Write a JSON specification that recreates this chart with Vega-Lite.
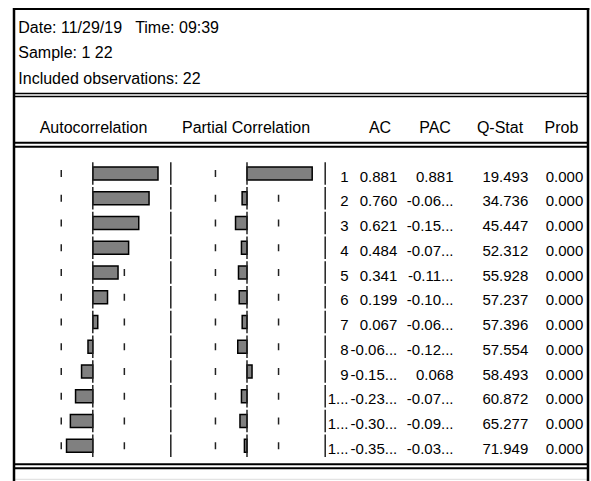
{
  "$schema": "https://vega.github.io/schema/vega-lite/v6.json",
  "width": 591,
  "height": 481,
  "autosize": "none",
  "padding": 0,
  "background": "white",
  "config": {"view": {"stroke": null}, "axis": {"disable": true}},
  "datasets": {
    "corr": [
      {"lag": 1, "lagLabel": "1", "ac": 0.881, "acLabel": "0.881", "pac": 0.881, "pacLabel": "0.881", "q": 19.493, "prob": 0.0},
      {"lag": 2, "lagLabel": "2", "ac": 0.760, "acLabel": "0.760", "pac": -0.066, "pacLabel": "-0.06...", "q": 34.736, "prob": 0.0},
      {"lag": 3, "lagLabel": "3", "ac": 0.621, "acLabel": "0.621", "pac": -0.155, "pacLabel": "-0.15...", "q": 45.447, "prob": 0.0},
      {"lag": 4, "lagLabel": "4", "ac": 0.484, "acLabel": "0.484", "pac": -0.075, "pacLabel": "-0.07...", "q": 52.312, "prob": 0.0},
      {"lag": 5, "lagLabel": "5", "ac": 0.341, "acLabel": "0.341", "pac": -0.115, "pacLabel": "-0.11...", "q": 55.928, "prob": 0.0},
      {"lag": 6, "lagLabel": "6", "ac": 0.199, "acLabel": "0.199", "pac": -0.105, "pacLabel": "-0.10...", "q": 57.237, "prob": 0.0},
      {"lag": 7, "lagLabel": "7", "ac": 0.067, "acLabel": "0.067", "pac": -0.065, "pacLabel": "-0.06...", "q": 57.396, "prob": 0.0},
      {"lag": 8, "lagLabel": "8", "ac": -0.065, "acLabel": "-0.06...", "pac": -0.125, "pacLabel": "-0.12...", "q": 57.554, "prob": 0.0},
      {"lag": 9, "lagLabel": "9", "ac": -0.152, "acLabel": "-0.15...", "pac": 0.068, "pacLabel": "0.068", "q": 58.493, "prob": 0.0},
      {"lag": 10, "lagLabel": "1...", "ac": -0.233, "acLabel": "-0.23...", "pac": -0.075, "pacLabel": "-0.07...", "q": 60.872, "prob": 0.0},
      {"lag": 11, "lagLabel": "1...", "ac": -0.303, "acLabel": "-0.30...", "pac": -0.095, "pacLabel": "-0.09...", "q": 65.277, "prob": 0.0},
      {"lag": 12, "lagLabel": "1...", "ac": -0.355, "acLabel": "-0.35...", "pac": -0.035, "pacLabel": "-0.03...", "q": 71.949, "prob": 0.0}
    ]
  },
  "resolve": {"scale": {"x": "independent", "y": "independent"}},
  "layer": [
    {
      "data": {"name": "corr"},
      "encoding": {"y": {"field": "lag", "type": "quantitative", "scale": {"domain": [-6.0101, 13.4242], "nice": false, "zero": false, "padding": 0, "reverse": true}}},
      "layer": [
        {"mark": {"type": "tick", "orient": "vertical", "size": 7, "thickness": 1.5, "color": "#222", "opacity": 1},
         "encoding": {"x": {"datum": -0.4264, "type": "quantitative", "scale": {"domain": [-1.25405, 6.73243], "nice": false, "zero": false, "padding": 0}}}},
        {"mark": {"type": "tick", "orient": "vertical", "size": 7, "thickness": 1.5, "color": "#222", "opacity": 1},
         "encoding": {"x": {"datum": 0.4264, "type": "quantitative", "scale": {"domain": [-1.25405, 6.73243], "nice": false, "zero": false, "padding": 0}}}},
        {"mark": {"type": "bar", "orient": "horizontal", "size": 13, "fill": "#808080", "stroke": "#000000", "strokeWidth": 1.5, "opacity": 1},
         "encoding": {"x": {"field": "ac", "type": "quantitative", "scale": {"domain": [-1.25405, 6.73243], "nice": false, "zero": false, "padding": 0}}, "x2": {"datum": 0}}},
        {"mark": {"type": "tick", "orient": "vertical", "size": 22.5, "thickness": 1.5, "color": "#222", "opacity": 1},
         "encoding": {"x": {"datum": 0, "type": "quantitative", "scale": {"domain": [-1.25405, 6.73243], "nice": false, "zero": false, "padding": 0}}}}
      ]
    },
    {
      "data": {"name": "corr"},
      "encoding": {"y": {"field": "lag", "type": "quantitative", "scale": {"domain": [-6.0101, 13.4242], "nice": false, "zero": false, "padding": 0, "reverse": true}}},
      "layer": [
        {"mark": {"type": "tick", "orient": "vertical", "size": 7, "thickness": 1.5, "color": "#222", "opacity": 1},
         "encoding": {"x": {"datum": -0.4264, "type": "quantitative", "scale": {"domain": [-3.33784, 4.64865], "nice": false, "zero": false, "padding": 0}}}},
        {"mark": {"type": "tick", "orient": "vertical", "size": 7, "thickness": 1.5, "color": "#222", "opacity": 1},
         "encoding": {"x": {"datum": 0.4264, "type": "quantitative", "scale": {"domain": [-3.33784, 4.64865], "nice": false, "zero": false, "padding": 0}}}},
        {"mark": {"type": "bar", "orient": "horizontal", "size": 13, "fill": "#808080", "stroke": "#000000", "strokeWidth": 1.5, "opacity": 1},
         "encoding": {"x": {"field": "pac", "type": "quantitative", "scale": {"domain": [-3.33784, 4.64865], "nice": false, "zero": false, "padding": 0}}, "x2": {"datum": 0}}},
        {"mark": {"type": "tick", "orient": "vertical", "size": 22.5, "thickness": 1.5, "color": "#222", "opacity": 1},
         "encoding": {"x": {"datum": 0, "type": "quantitative", "scale": {"domain": [-3.33784, 4.64865], "nice": false, "zero": false, "padding": 0}}}}
      ]
    },
    {
      "data": {"name": "corr"},
      "encoding": {"y": {"field": "lag", "type": "quantitative", "scale": {"domain": [-6.0101, 13.4242], "nice": false, "zero": false, "padding": 0, "reverse": true}}},
      "layer": [
        {"mark": {"type": "tick", "orient": "vertical", "size": 22.5, "thickness": 1.5, "color": "#222", "opacity": 1},
         "encoding": {"x": {"datum": 170.8, "type": "quantitative", "scale": {"domain": [0, 591], "nice": false, "zero": false, "padding": 0}}}},
        {"mark": {"type": "tick", "orient": "vertical", "size": 22.5, "thickness": 1.5, "color": "#222", "opacity": 1},
         "encoding": {"x": {"datum": 325.2, "type": "quantitative", "scale": {"domain": [0, 591], "nice": false, "zero": false, "padding": 0}}}},
        {"mark": {"type": "text", "align": "right", "baseline": "alphabetic", "dy": 8.2, "font": "Liberation Sans", "fontSize": 15, "color": "#000000"},
         "encoding": {"x": {"datum": 348.5, "type": "quantitative", "scale": {"domain": [0, 591], "nice": false, "zero": false, "padding": 0}}, "text": {"field": "lagLabel", "type": "nominal"}}},
        {"mark": {"type": "text", "align": "right", "baseline": "alphabetic", "dy": 8.2, "font": "Liberation Sans", "fontSize": 15, "color": "#000000"},
         "encoding": {"x": {"datum": 397.3, "type": "quantitative", "scale": {"domain": [0, 591], "nice": false, "zero": false, "padding": 0}}, "text": {"field": "acLabel", "type": "nominal"}}},
        {"mark": {"type": "text", "align": "right", "baseline": "alphabetic", "dy": 8.2, "font": "Liberation Sans", "fontSize": 15, "color": "#000000"},
         "encoding": {"x": {"datum": 453.5, "type": "quantitative", "scale": {"domain": [0, 591], "nice": false, "zero": false, "padding": 0}}, "text": {"field": "pacLabel", "type": "nominal"}}},
        {"mark": {"type": "text", "align": "right", "baseline": "alphabetic", "dy": 8.2, "font": "Liberation Sans", "fontSize": 15, "color": "#000000"},
         "encoding": {"x": {"datum": 528.3, "type": "quantitative", "scale": {"domain": [0, 591], "nice": false, "zero": false, "padding": 0}}, "text": {"field": "q", "type": "quantitative", "format": ".3f"}}},
        {"mark": {"type": "text", "align": "right", "baseline": "alphabetic", "dy": 8.2, "font": "Liberation Sans", "fontSize": 15, "color": "#000000"},
         "encoding": {"x": {"datum": 583.3, "type": "quantitative", "scale": {"domain": [0, 591], "nice": false, "zero": false, "padding": 0}}, "text": {"field": "prob", "type": "quantitative", "format": ".3f"}}}
      ]
    },
    {
      "data": {"values": [{}]},
      "layer": [
        {"mark": {"type": "rule", "color": "#000000", "strokeWidth": 2},
         "encoding": {"x": {"datum": 13, "type": "quantitative", "scale": {"domain": [0, 591], "nice": false, "zero": false, "padding": 0}}, "x2": {"datum": 589.3},
                      "y": {"datum": 9, "type": "quantitative", "scale": {"domain": [0, 481], "nice": false, "zero": false, "padding": 0, "reverse": true}}}},
        {"mark": {"type": "rule", "color": "#000000", "strokeWidth": 1.6},
         "encoding": {"x": {"datum": 14, "type": "quantitative", "scale": {"domain": [0, 591], "nice": false, "zero": false, "padding": 0}}, "x2": {"datum": 588},
                      "y": {"datum": 93.5, "type": "quantitative", "scale": {"domain": [0, 481], "nice": false, "zero": false, "padding": 0, "reverse": true}}}},
        {"mark": {"type": "rule", "color": "#000000", "strokeWidth": 1.6},
         "encoding": {"x": {"datum": 14, "type": "quantitative", "scale": {"domain": [0, 591], "nice": false, "zero": false, "padding": 0}}, "x2": {"datum": 588},
                      "y": {"datum": 96.5, "type": "quantitative", "scale": {"domain": [0, 481], "nice": false, "zero": false, "padding": 0, "reverse": true}}}},
        {"mark": {"type": "rule", "color": "#000000", "strokeWidth": 2},
         "encoding": {"x": {"datum": 14, "type": "quantitative", "scale": {"domain": [0, 591], "nice": false, "zero": false, "padding": 0}}, "x2": {"datum": 588},
                      "y": {"datum": 142.8, "type": "quantitative", "scale": {"domain": [0, 481], "nice": false, "zero": false, "padding": 0, "reverse": true}}}},
        {"mark": {"type": "rule", "color": "#000000", "strokeWidth": 2},
         "encoding": {"x": {"datum": 14, "type": "quantitative", "scale": {"domain": [0, 591], "nice": false, "zero": false, "padding": 0}}, "x2": {"datum": 588},
                      "y": {"datum": 146.7, "type": "quantitative", "scale": {"domain": [0, 481], "nice": false, "zero": false, "padding": 0, "reverse": true}}}},
        {"mark": {"type": "rule", "color": "#000000", "strokeWidth": 2},
         "encoding": {"x": {"datum": 14, "type": "quantitative", "scale": {"domain": [0, 591], "nice": false, "zero": false, "padding": 0}}, "x2": {"datum": 588},
                      "y": {"datum": 464.3, "type": "quantitative", "scale": {"domain": [0, 481], "nice": false, "zero": false, "padding": 0, "reverse": true}}}},
        {"mark": {"type": "rule", "color": "#000000", "strokeWidth": 2},
         "encoding": {"x": {"datum": 14, "type": "quantitative", "scale": {"domain": [0, 591], "nice": false, "zero": false, "padding": 0}}, "x2": {"datum": 588},
                      "y": {"datum": 468.2, "type": "quantitative", "scale": {"domain": [0, 481], "nice": false, "zero": false, "padding": 0, "reverse": true}}}},
        {"mark": {"type": "rule", "color": "#dddddd", "strokeWidth": 1},
         "encoding": {"x": {"datum": 15, "type": "quantitative", "scale": {"domain": [0, 591], "nice": false, "zero": false, "padding": 0}}, "x2": {"datum": 587},
                      "y": {"datum": 479.3, "type": "quantitative", "scale": {"domain": [0, 481], "nice": false, "zero": false, "padding": 0, "reverse": true}}}},
        {"mark": {"type": "rule", "color": "#000000", "strokeWidth": 2.5},
         "encoding": {"x": {"datum": 14, "type": "quantitative", "scale": {"domain": [0, 591], "nice": false, "zero": false, "padding": 0}},
                      "y": {"datum": 8, "type": "quantitative", "scale": {"domain": [0, 481], "nice": false, "zero": false, "padding": 0, "reverse": true}}, "y2": {"datum": 481}}},
        {"mark": {"type": "rule", "color": "#000000", "strokeWidth": 2.5},
         "encoding": {"x": {"datum": 588, "type": "quantitative", "scale": {"domain": [0, 591], "nice": false, "zero": false, "padding": 0}},
                      "y": {"datum": 8, "type": "quantitative", "scale": {"domain": [0, 481], "nice": false, "zero": false, "padding": 0, "reverse": true}}, "y2": {"datum": 481}}},
        {"mark": {"type": "text", "text": ["Date: 11/29/19\u00a0\u00a0 Time: 09:39", "Sample: 1 22", "Included observations: 22"], "align": "left", "baseline": "alphabetic", "lineHeight": 25.8, "font": "Liberation Sans", "fontSize": 16, "color": "#000000"},
         "encoding": {"x": {"datum": 18.3, "type": "quantitative", "scale": {"domain": [0, 591], "nice": false, "zero": false, "padding": 0}},
                      "y": {"datum": 32.7, "type": "quantitative", "scale": {"domain": [0, 481], "nice": false, "zero": false, "padding": 0, "reverse": true}}}},
        {"mark": {"type": "text", "text": "Autocorrelation", "align": "center", "baseline": "alphabetic", "font": "Liberation Sans", "fontSize": 16, "color": "#000000"},
         "encoding": {"x": {"datum": 93.5, "type": "quantitative", "scale": {"domain": [0, 591], "nice": false, "zero": false, "padding": 0}},
                      "y": {"datum": 132.7, "type": "quantitative", "scale": {"domain": [0, 481], "nice": false, "zero": false, "padding": 0, "reverse": true}}}},
        {"mark": {"type": "text", "text": "Partial Correlation", "align": "center", "baseline": "alphabetic", "font": "Liberation Sans", "fontSize": 16, "color": "#000000"},
         "encoding": {"x": {"datum": 246, "type": "quantitative", "scale": {"domain": [0, 591], "nice": false, "zero": false, "padding": 0}},
                      "y": {"datum": 132.7, "type": "quantitative", "scale": {"domain": [0, 481], "nice": false, "zero": false, "padding": 0, "reverse": true}}}},
        {"mark": {"type": "text", "text": "AC", "align": "center", "baseline": "alphabetic", "font": "Liberation Sans", "fontSize": 16, "color": "#000000"},
         "encoding": {"x": {"datum": 380, "type": "quantitative", "scale": {"domain": [0, 591], "nice": false, "zero": false, "padding": 0}},
                      "y": {"datum": 132.7, "type": "quantitative", "scale": {"domain": [0, 481], "nice": false, "zero": false, "padding": 0, "reverse": true}}}},
        {"mark": {"type": "text", "text": "PAC", "align": "center", "baseline": "alphabetic", "font": "Liberation Sans", "fontSize": 16, "color": "#000000"},
         "encoding": {"x": {"datum": 435, "type": "quantitative", "scale": {"domain": [0, 591], "nice": false, "zero": false, "padding": 0}},
                      "y": {"datum": 132.7, "type": "quantitative", "scale": {"domain": [0, 481], "nice": false, "zero": false, "padding": 0, "reverse": true}}}},
        {"mark": {"type": "text", "text": "Q-Stat", "align": "center", "baseline": "alphabetic", "font": "Liberation Sans", "fontSize": 16, "color": "#000000"},
         "encoding": {"x": {"datum": 500, "type": "quantitative", "scale": {"domain": [0, 591], "nice": false, "zero": false, "padding": 0}},
                      "y": {"datum": 132.7, "type": "quantitative", "scale": {"domain": [0, 481], "nice": false, "zero": false, "padding": 0, "reverse": true}}}},
        {"mark": {"type": "text", "text": "Prob", "align": "center", "baseline": "alphabetic", "font": "Liberation Sans", "fontSize": 16, "color": "#000000"},
         "encoding": {"x": {"datum": 561.5, "type": "quantitative", "scale": {"domain": [0, 591], "nice": false, "zero": false, "padding": 0}},
                      "y": {"datum": 132.7, "type": "quantitative", "scale": {"domain": [0, 481], "nice": false, "zero": false, "padding": 0, "reverse": true}}}}
      ]
    }
  ]
}
